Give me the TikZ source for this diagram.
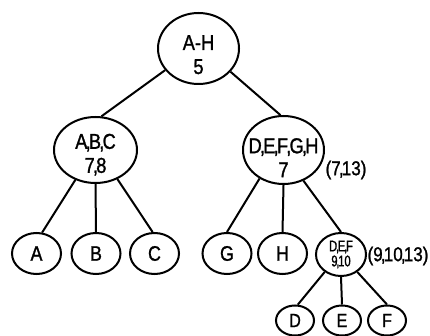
\documentclass[tikz,border=0pt]{standalone}
\usepackage{fontspec}
\setmainfont[FakeStretch=0.85,FakeBold=1.2]{Liberation Sans}
\newfontfamily\narrowfont[FakeStretch=0.72,FakeBold=1]{Liberation Sans}
\usetikzlibrary{shapes.geometric}
\newcommand\mycomma{\kern-1.8pt,\kern-1.8pt}
\newcommand\smallcomma{\kern-1.2pt,\kern-1.2pt}
\tikzset{
  ell/.style={ellipse, draw, line width=2pt, inner sep=0pt},
  big/.style={ell, minimum width=81pt, minimum height=69pt},
  leaf/.style={ell, minimum width=49pt, minimum height=41pt, font=\fontsize{21}{24}\selectfont},
  small/.style={ell, minimum width=50pt, minimum height=43pt, align=center, font=\narrowfont\fontsize{15.5}{15}\selectfont},
  bot/.style={ell, minimum width=38pt, minimum height=30pt, font=\fontsize{19}{20}\selectfont},
  txt/.style={align=center, inner sep=0pt, font=\fontsize{21.5}{24}\selectfont},
  lab/.style={inner sep=0pt, font=\fontsize{20}{22}\selectfont},
  conn/.style={line width=2pt}
}
\begin{document}
\begin{tikzpicture}[x=1pt,y=-1pt]
\useasboundingbox[fill=white] (0,0) rectangle (430,336);
% ellipses
\node[big, minimum height=71pt] (root) at (198.5,48.5) {};
\node[big, minimum width=83pt, minimum height=66pt] (abc) at (95.5,150) {};
\node[big, minimum height=68pt] (defgh) at (283.5,150) {};
\node[leaf] (A) at (36.5,253.5) {A};
\node[leaf] (B) at (96,253.5) {B};
\node[leaf] (C) at (154.5,253.5) {C};
\node[leaf] (G) at (227,253.5) {G};
\node[leaf] (H) at (282.5,253.5) {H};
\node[small] (def) at (341,254.5) {D\smallcomma E\smallcomma F\\9\smallcomma 10};
\node[bot] (D) at (295,320.5) {D};
\node[bot] (E) at (342,320.5) {E};
\node[bot] (F) at (387,320.5) {F};
% texts in big nodes
\node[txt] (roottxt) at (198.5,54.7) {A-H\\5};
\node[txt] (abctxt) at (95.5,154.7) {A\mycomma B\mycomma C\\7\mycomma 8};
\node[txt] (defghtxt) at (283.5,157.7) {D\mycomma E\mycomma F\mycomma G\mycomma H\\7};
% side labels
\node[lab] (lab1) at (346,170) {(7\mycomma 13)};
\node[lab] (lab2) at (398,256) {(9\mycomma 10\mycomma 13)};
% connectors
\draw[conn] (root.213) -- (abc.80);
\draw[conn] (root.324) -- (defgh.95);
\draw[conn] (abc.236) -- (A.75);
\draw[conn] (abc.south) -- (B.north);
\draw[conn] (abc.307) -- (C.95);
\draw[conn] (defgh.230) -- (G.north);
\draw[conn] (defgh.south) -- (H.north);
\draw[conn] (defgh.303) -- (def.north);
\draw[conn] (def.227) -- (D.80);
\draw[conn] (def.south) -- (E.north);
\draw[conn] (def.313) -- (F.north);
\end{tikzpicture}
\end{document}
